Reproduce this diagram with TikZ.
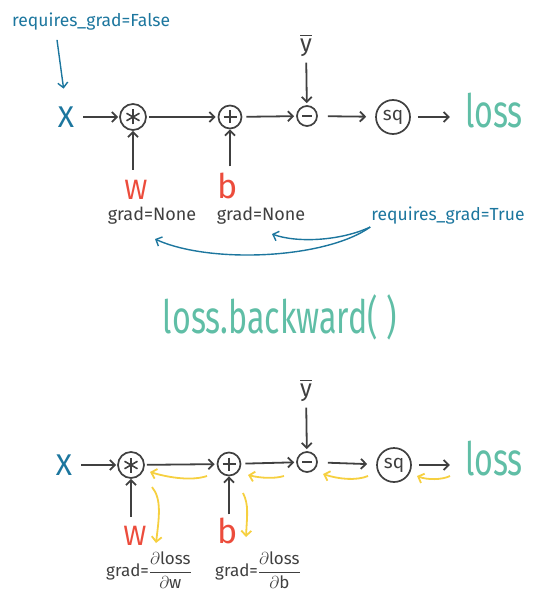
\documentclass[tikz,border=0pt]{standalone}
\usepackage{amsmath}
\usepackage{fontspec}
\setmainfont{Fira Sans}
\newfontfamily\tallfont[FakeStretch=0.7]{Fira Sans}
\usetikzlibrary{arrows.meta,calc}

\definecolor{ink}{RGB}{64,64,64}
\definecolor{pyblue}{RGB}{28,118,158}
\definecolor{losscol}{RGB}{96,190,166}
\definecolor{wred}{RGB}{236,76,60}
\definecolor{gradyel}{RGB}{246,208,64}

\begin{document}
\begin{tikzpicture}[x=1pt, y=-1pt,
  >={Straight Barb[length=5pt,width=10pt]},
  op/.style={circle, draw=ink, line width=1.7pt, inner sep=0pt, text=ink},
  sign/.style={ink, line width=1.6pt},
  fwd/.style={->, ink, line width=1.8pt},
  bwd/.style={->, gradyel, line width=1.8pt},
  note/.style={->, pyblue, line width=1.4pt},
  lbl/.style={inner sep=0pt, text=ink, font=\fontsize{18}{20}\selectfont},
  flag/.style={inner sep=0pt, text=pyblue, font=\fontsize{17.5}{18}\selectfont},
  param/.style={inner sep=0pt, text=wred},
  big/.style={inner sep=0pt, text=losscol, font=\tallfont\fontsize{46}{50}\selectfont}
]
\useasboundingbox (0,0) rectangle (554,612);

% Forward graph, before backward
\node[inner sep=0pt, text=pyblue, font=\fontsize{30}{30}\selectfont] (x1) at (66,117) {X};
\node[op, minimum size=26pt] (mul1) at (133,117) {};
\node[op, minimum size=23pt] (add1) at (230,117) {};
\node[op, minimum size=20pt] (sub1) at (307,116) {};
\node[op, minimum size=34pt, font=\fontsize{19}{19}\selectfont] (sq1) at (393,117) {sq};
\node[big, anchor=base] (loss1) at (494,128) {loss};
\node[lbl, font=\fontsize{24}{24}\selectfont] (yb1) at (306,45) {$\overline{\text{y}}$};

\node[flag, anchor=base west] (rgF) at (12,27) {requires\_grad=False};

\node[param, anchor=base, font=\fontsize{28}{28}\selectfont] (w1) at (136,200) {W};
\node[param, anchor=base, font=\fontsize{34}{34}\selectfont] (b1) at (228,199) {b};
\node[lbl, anchor=base] (gn1) at (152,221) {grad=None};
\node[lbl, anchor=base] (gn2) at (261,221) {grad=None};
\node[flag, anchor=base] (rgT) at (448,221) {requires\_grad=True};

\draw[fwd, shorten <=9pt, shorten >=1pt] (x1) -- (mul1);
\draw[fwd, shorten <=2pt, shorten >=2pt] (mul1) -- (add1);
\draw[fwd, shorten <=4pt, shorten >=2pt] (add1) -- (sub1);
\draw[fwd, shorten <=10pt, shorten >=9pt] (sub1) -- (sq1);
\draw[fwd, shorten <=7pt, shorten >=15pt] (sq1) -- (sq1 -| loss1.west);
\draw[fwd, shorten <=6pt, shorten >=2pt] (yb1) -- (sub1);
\draw[fwd, shorten <=11pt] (mul1.south |- w1.north) -- (mul1.south);
\draw[fwd, shorten <=7pt] (add1.south |- b1.north) -- (add1.south);

\draw[note, shorten >=18pt] ($(rgF.south west)+(45,9)$) -- (x1.north);
\coordinate (rgTfoot) at ($(rgT.west)+(-1,11)$);
\draw[note] (rgTfoot) .. controls +(-45,32) and +(55,25) .. ($(gn1.south)+(3,14)$);
\draw[note] (rgTfoot) .. controls +(-30,14) and +(25,9) .. ($(gn2.south)+(11,9)$);

\node[big, anchor=base] (bw) at (280,333) {loss.backward( )};

% Same graph, after backward
\node[inner sep=0pt, text=pyblue, font=\fontsize{30}{30}\selectfont] (x2) at (64,465) {X};
\node[op, minimum size=26pt] (mul2) at (131,465) {};
\node[op, minimum size=23pt] (add2) at (229,464) {};
\node[op, minimum size=20pt] (sub2) at (307,462) {};
\node[op, minimum size=34pt, font=\fontsize{19}{19}\selectfont] (sq2) at (394,465) {sq};
\node[big, anchor=base] (loss2) at (494,475) {loss};
\node[lbl, font=\fontsize{24}{24}\selectfont] (yb2) at (306,390) {$\overline{\text{y}}$};

\node[param, anchor=base, font=\fontsize{28}{28}\selectfont] (w2) at (135,545) {W};
\node[param, anchor=base, font=\fontsize{34}{34}\selectfont] (b2) at (228,543) {b};
\node[lbl, font=\fontsize{17}{18}\selectfont] (gd1) at (149,570) {grad=$\dfrac{\partial\text{loss}}{\partial\text{w}}$};
\node[lbl, font=\fontsize{17}{18}\selectfont] (gd2) at (258,570) {grad=$\dfrac{\partial\text{loss}}{\partial\text{b}}$};

% signs inside the operator circles
\foreach \m in {mul1,mul2}
  \foreach \a in {90,30,150}
    \draw[sign] ($(\m)+(\a:7.5)$) -- ($(\m)+(\a+180:7.5)$);
\foreach \m in {add1,add2} {
  \draw[sign] ($(\m)+(-6.5,0)$) -- ($(\m)+(6.5,0)$);
  \draw[sign] ($(\m)+(0,-6.5)$) -- ($(\m)+(0,6.5)$);
}
\foreach \m in {sub1,sub2}
  \draw[sign] ($(\m)+(-5,0)$) -- ($(\m)+(5,0)$);

\draw[fwd, shorten <=9pt, shorten >=1pt] (x2) -- (mul2);
\draw[fwd, shorten <=2pt, shorten >=2pt] (mul2) -- (add2);
\draw[fwd, shorten <=4pt, shorten >=2pt] (add2) -- (sub2);
\draw[fwd, shorten <=10pt, shorten >=9pt] (sub2) -- (sq2);
\draw[fwd, shorten <=7pt, shorten >=15pt] (sq2) -- (sq2 -| loss2.west);
\draw[fwd, shorten <=6pt, shorten >=2pt] (yb2) -- (sub2);
\draw[fwd, shorten <=9pt] (mul2.south |- w2.north) -- (mul2.south);
\draw[fwd, shorten <=3pt] (add2.south |- b2.north) -- (add2.south);

% gradients flowing back
\draw[bwd] ($(loss2.base)+(-44,1)$) .. controls +(-8,4) and +(10,4) .. ($(sq2)+(23,11)$);
\draw[bwd] ($(sq2)+(-26,11)$) .. controls +(-12,5) and +(15,5) .. ($(sub2)+(16,12)$);
\draw[bwd] ($(sub2)+(-23,14)$) .. controls +(-10,3) and +(12,3) .. ($(add2)+(19,11)$);
\draw[bwd] ($(add2)+(-22,12)$) .. controls +(-15,5) and +(20,6) .. ($(mul2)+(19,7)$);
\draw[bwd] ($(mul2)+(21,22)$) .. controls +(10,12) and +(3,-25) .. ($(w2.base)+(21,-2)$);
\draw[bwd] ($(add2)+(14,29)$) .. controls +(6,12) and +(1,-22) .. ($(b2.base)+(18,-6)$);

\end{tikzpicture}
\end{document}
